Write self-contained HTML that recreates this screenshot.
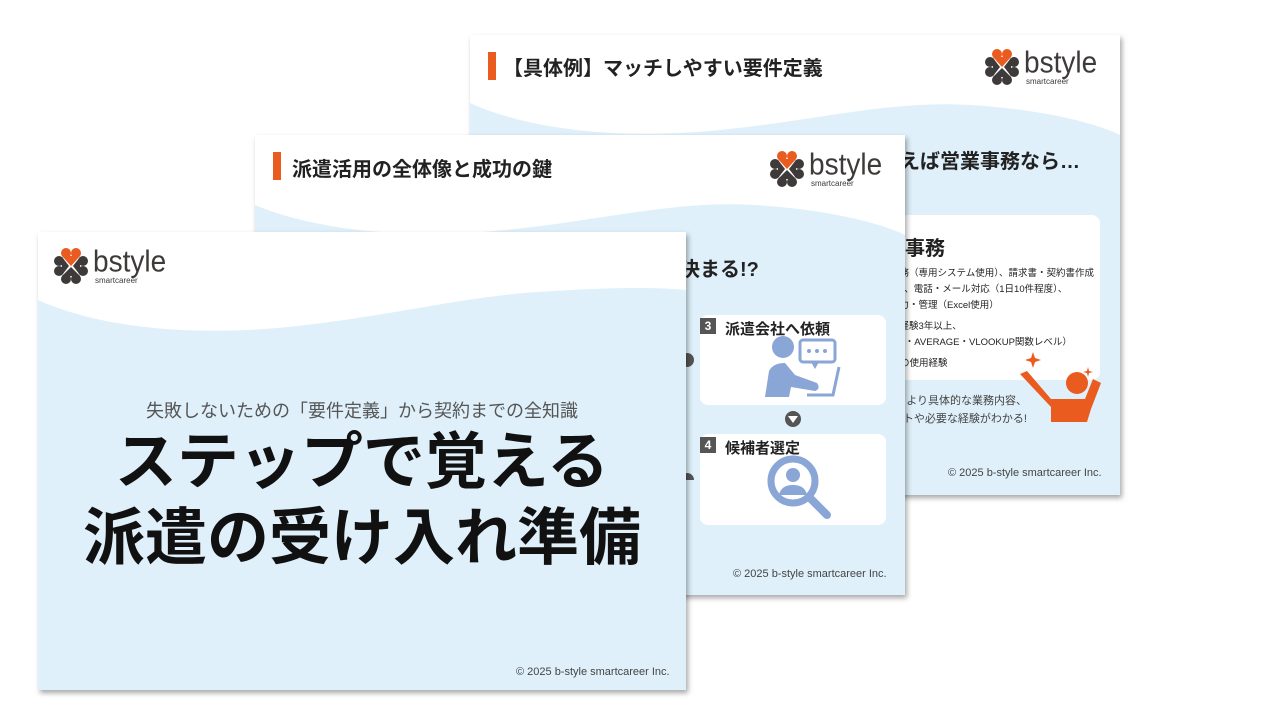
<!DOCTYPE html>
<html><head><meta charset="utf-8"><style>
body{margin:0;width:1280px;height:720px;background:#fff;position:relative;overflow:hidden;font-family:"Liberation Sans","Noto Sans CJK JP",sans-serif;}
.s{position:absolute;width:650px;height:460px;background:#fff;box-shadow:2px 3px 5px rgba(0,0,0,.35);overflow:hidden}
.s svg.w{position:absolute;left:0;top:0}
.a{position:absolute;white-space:nowrap}
.bar{position:absolute;width:8px;height:28px;background:#ea5b1f}
.t{font-weight:bold;font-size:20px;color:#222}
.logo{position:absolute;width:125px;height:40px}
.logo .b{position:absolute;left:41px;top:-2px;font-size:28px;color:#3e3a39;transform:scaleY(1.1);transform-origin:left top}
.logo .sm{position:absolute;left:43px;top:30px;font-size:8px;color:#3e3a39}
.cp{font-size:11px;color:#444}
.card{position:absolute;background:#fff;border-radius:8px}
</style></head><body>
<!-- back slide -->
<div class="s" style="left:470px;top:35px">
<svg class="w" width="650" height="460"><path d="M0,68 C60,95 150,105 250,95 C350,85 420,65 500,70 C580,75 630,90 650,100 L650,460 L0,460Z" fill="#dff0fa"/></svg>
<div class="bar" style="left:18px;top:17px"></div>
<div class="a t" style="left:33px;top:17px">【具体例】マッチしやすい要件定義</div>
<div class="logo" style="left:513px;top:12px">
<svg width="40" height="40"><circle cx="14" cy="7" r="5" fill="#ea5b1f"/><circle cx="24" cy="7" r="5" fill="#ea5b1f"/><path d="M10,10 L19,20 L28,10Z" fill="#ea5b1f"/><circle cx="7" cy="15" r="5" fill="#3e3a39"/><circle cx="7" cy="25" r="5" fill="#3e3a39"/><path d="M10,11 L17,20 L10,29Z" fill="#3e3a39"/><circle cx="31" cy="15" r="5" fill="#3e3a39"/><circle cx="31" cy="25" r="5" fill="#3e3a39"/><path d="M28,11 L21,20 L28,29Z" fill="#3e3a39"/><circle cx="14" cy="33" r="5" fill="#3e3a39"/><circle cx="24" cy="33" r="5" fill="#3e3a39"/><path d="M10,30 L19,21 L28,30Z" fill="#3e3a39"/></svg>
<div class="b">bstyle</div><div class="sm">smartcareer</div></div>
<div class="a t" style="left:430px;top:110px">えば営業事務なら…</div>
<div class="card" style="left:425px;top:180px;width:205px;height:165px"></div>
<div class="a" style="left:435px;top:197px;font-size:20px;font-weight:bold;color:#222">事務</div>
<div class="a" style="left:420px;top:231px;font-size:9.5px;line-height:16px;color:#222">業務（専用システム使用）、請求書・契約書作成<br>り）、電話・メール対応（1日10件程度）、<br>入力・管理（Excel使用）</div>
<div class="a" style="left:420px;top:284px;font-size:9.5px;line-height:16px;color:#222">務経験3年以上、<br>UM・AVERAGE・VLOOKUP関数レベル）</div>
<div class="a" style="left:420px;top:320px;font-size:9.5px;color:#222">ceの使用経験</div>
<svg class="a" style="left:545px;top:312px" width="90" height="80"><path d="M18,5 L20,11 L26,13 L20,15 L18,21 L16,15 L10,13 L16,11Z" fill="#ea5b1f"/><path d="M73,20 L74,24 L78,25 L74,26 L73,30 L72,26 L68,25 L72,24Z" fill="#ea5b1f"/><circle cx="62" cy="36" r="11" fill="#ea5b1f"/><path d="M5,27 L12,24 L36,52 L52,52 L52,75 L36,75 L36,60Z" fill="#ea5b1f"/><path d="M52,52 L70,52 L78,32 L86,36 L76,62 L72,75 L52,75Z" fill="#ea5b1f"/></svg>
<div class="a" style="right:93px;top:357px;font-size:11px;line-height:18px;color:#444;text-align:right">より具体的な業務内容、<br>トや必要な経験がわかる!</div>
<div class="a cp" style="left:478px;top:432px">© 2025 b-style smartcareer Inc.</div>
</div>
<!-- middle slide -->
<div class="s" style="left:255px;top:135px">
<svg class="w" width="650" height="460"><path d="M0,70 C60,95 150,105 250,95 C350,85 420,65 500,70 C580,75 630,90 650,100 L650,460 L0,460Z" fill="#dff0fa"/></svg>
<div class="bar" style="left:18px;top:17px"></div>
<div class="a t" style="left:37px;top:18px">派遣活用の全体像と成功の鍵</div>
<div class="logo" style="left:513px;top:14px">
<svg width="40" height="40"><circle cx="14" cy="7" r="5" fill="#ea5b1f"/><circle cx="24" cy="7" r="5" fill="#ea5b1f"/><path d="M10,10 L19,20 L28,10Z" fill="#ea5b1f"/><circle cx="7" cy="15" r="5" fill="#3e3a39"/><circle cx="7" cy="25" r="5" fill="#3e3a39"/><path d="M10,11 L17,20 L10,29Z" fill="#3e3a39"/><circle cx="31" cy="15" r="5" fill="#3e3a39"/><circle cx="31" cy="25" r="5" fill="#3e3a39"/><path d="M28,11 L21,20 L28,29Z" fill="#3e3a39"/><circle cx="14" cy="33" r="5" fill="#3e3a39"/><circle cx="24" cy="33" r="5" fill="#3e3a39"/><path d="M10,30 L19,21 L28,30Z" fill="#3e3a39"/></svg>
<div class="b">bstyle</div><div class="sm">smartcareer</div></div>
<div class="a t" style="left:425px;top:118px">決まる!?</div>
<svg class="a" style="left:425px;top:215px" width="20" height="130"><circle cx="7" cy="10" r="7" fill="#555"/><circle cx="7" cy="130" r="7" fill="#555"/></svg>
<div class="card" style="left:445px;top:180px;width:186px;height:90px"></div>
<div class="a" style="left:445px;top:183px;width:16px;height:16px;background:#555;color:#fff;font-size:12px;font-weight:bold;text-align:center;line-height:16px">3</div>
<div class="a" style="left:470px;top:183px;font-size:15px;font-weight:bold;color:#222">派遣会社へ依頼</div>
<svg class="a" style="left:500px;top:200px" width="90" height="68"><circle cx="28" cy="12" r="11" fill="#8aa6d6"/><path d="M10,62 L14,36 Q18,28 30,28 L40,40 L62,48 Q66,54 60,56 L36,52 L34,62Z" fill="#8aa6d6"/><rect x="45" y="5" width="35" height="22" rx="3" fill="none" stroke="#8aa6d6" stroke-width="3"/><path d="M56,27 L60,34 L64,27" fill="#8aa6d6"/><circle cx="54" cy="16" r="2" fill="#8aa6d6"/><circle cx="62" cy="16" r="2" fill="#8aa6d6"/><circle cx="70" cy="16" r="2" fill="#8aa6d6"/><path d="M84,32 L78,60 L52,60" fill="none" stroke="#8aa6d6" stroke-width="3"/></svg>
<svg class="a" style="left:530px;top:276px" width="16" height="16"><circle cx="8" cy="8" r="8" fill="#555"/><path d="M3,5 L13,5 L8,12Z" fill="#fff"/></svg>
<div class="card" style="left:445px;top:299px;width:186px;height:91px"></div>
<div class="a" style="left:445px;top:302px;width:16px;height:16px;background:#555;color:#fff;font-size:12px;font-weight:bold;text-align:center;line-height:16px">4</div>
<div class="a" style="left:470px;top:302px;font-size:15px;font-weight:bold;color:#222">候補者選定</div>
<svg class="a" style="left:510px;top:318px" width="70" height="70"><circle cx="28" cy="28" r="22" fill="none" stroke="#8aa6d6" stroke-width="7"/><circle cx="28" cy="22" r="7" fill="#8aa6d6"/><path d="M14,42 Q16,32 28,32 Q40,32 42,42Z" fill="#8aa6d6"/><path d="M45,45 L62,62" stroke="#8aa6d6" stroke-width="8" stroke-linecap="round"/></svg>
<div class="a cp" style="left:478px;top:433px">© 2025 b-style smartcareer Inc.</div>
</div>
<!-- front slide -->
<div class="s" style="left:38px;top:232px;width:648px;height:458px">
<svg class="w" width="648" height="458"><path d="M0,68 C60,95 150,105 250,95 C350,85 420,65 500,60 C570,55 620,55 648,58 L648,458 L0,458Z" fill="#dff0fa"/></svg>
<div class="logo" style="left:14px;top:14px">
<svg width="40" height="40"><circle cx="14" cy="7" r="5" fill="#ea5b1f"/><circle cx="24" cy="7" r="5" fill="#ea5b1f"/><path d="M10,10 L19,20 L28,10Z" fill="#ea5b1f"/><circle cx="7" cy="15" r="5" fill="#3e3a39"/><circle cx="7" cy="25" r="5" fill="#3e3a39"/><path d="M10,11 L17,20 L10,29Z" fill="#3e3a39"/><circle cx="31" cy="15" r="5" fill="#3e3a39"/><circle cx="31" cy="25" r="5" fill="#3e3a39"/><path d="M28,11 L21,20 L28,29Z" fill="#3e3a39"/><circle cx="14" cy="33" r="5" fill="#3e3a39"/><circle cx="24" cy="33" r="5" fill="#3e3a39"/><path d="M10,30 L19,21 L28,30Z" fill="#3e3a39"/></svg>
<div class="b">bstyle</div><div class="sm">smartcareer</div></div>
<div class="a" style="left:0;width:648px;text-align:center;top:165px;font-size:18px;color:#555">失敗しないための「要件定義」から契約までの全知識</div>
<div class="a" style="left:0;width:648px;text-align:center;top:193px;font-size:62px;line-height:76px;font-weight:bold;color:#111">ステップで覚える<br>派遣の受け入れ準備</div>
<div class="a cp" style="left:478px;top:434px">© 2025 b-style smartcareer Inc.</div>
</div>
</body></html>
